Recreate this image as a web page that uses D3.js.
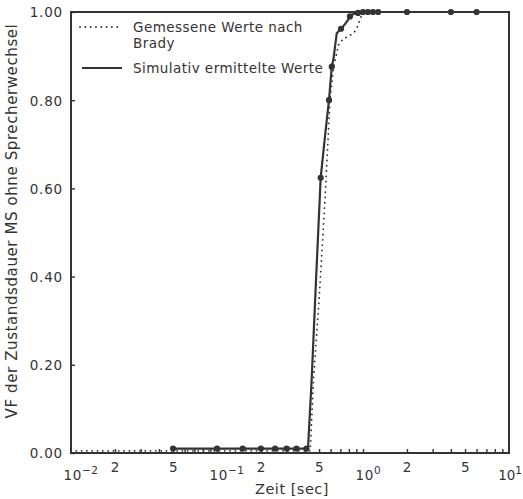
<!DOCTYPE html>
<html>
<head>
<meta charset="utf-8">
<script src="https://cdn.jsdelivr.net/npm/d3@7"></script>
<style>
  html, body { margin: 0; padding: 0; background: #fff; }
  svg { display: block; }
  text { font-family: "DejaVu Sans", sans-serif; fill: #333; }
</style>
</head>
<body>
<svg id="chart" width="523" height="499"></svg>
<script>
// Simulated state durations (seconds) and their cumulative distribution
const simTime = [0.05, 0.1, 0.15, 0.2, 0.25, 0.3, 0.35, 0.41, 0.42, 0.445, 0.47, 0.513, 0.55, 0.585, 0.611, 0.626, 0.661, 0.707, 0.75, 0.79, 0.814, 0.855, 0.925, 1.0, 1.08, 1.17, 1.27, 2.0, 4.0, 6.0];
const simCdf  = [0.01, 0.01, 0.01, 0.01, 0.01, 0.01, 0.01, 0.01, 0.01, 0.166, 0.347, 0.624, 0.72, 0.80, 0.876, 0.891, 0.952, 0.962, 0.972, 0.982, 0.99, 0.995, 0.998, 1.0, 1.0, 1.0, 1.0, 1.0, 1.0, 1.0];
const simMarked = [true, true, true, true, true, true, true, true, false, false, false, true, false, true, true, false, false, true, false, false, true, false, true, true, true, true, true, true, true, true];

// Measured values after Brady
const bradyTime = [0.01, 0.1, 0.435, 0.458, 0.50, 0.549, 0.594, 0.63, 0.661, 0.68, 0.73, 0.81, 0.88, 0.92, 0.95, 0.98, 1.02, 1.35];
const bradyCdf  = [0.005, 0.005, 0.005, 0.166, 0.347, 0.574, 0.80, 0.877, 0.907, 0.925, 0.939, 0.946, 0.956, 0.968, 0.982, 0.993, 1.0, 1.0];

// Axis ticks
const yTicks = [0, 0.2, 0.4, 0.6, 0.8, 1.0];
const xLabelTicks = [0.01, 0.02, 0.05, 0.1, 0.2, 0.5, 1, 2, 5, 10];
const xMinorTicks = [0.02, 0.03, 0.04, 0.05, 0.06, 0.07, 0.08, 0.09, 0.1,
                     0.2, 0.3, 0.4, 0.5, 0.6, 0.7, 0.8, 0.9, 1,
                     2, 3, 4, 5, 6, 7, 8, 9];

const legendLabels = [["Gemessene Werte nach", "Brady"], ["Simulativ ermittelte Werte"]];
const xTitle = "Zeit [sec]";
const yTitle = "VF der Zustandsdauer MS ohne Sprecherwechsel";

const ink = "#333";
const margin = { left: 71, top: 12, right: 14, bottom: 46 };
const W = 523, H = 499;
const w = W - margin.left - margin.right;
const h = H - margin.top - margin.bottom;

const svg = d3.select("#chart");
const g = svg.append("g").attr("transform", `translate(${margin.left},${margin.top})`);

const x = d3.scaleLog().domain([0.01, 10]).range([0, w]);
const y = d3.scaleLinear().domain([0, 1]).range([h, 0]);

// inward minor ticks on the time axis
const xTickAxis = g.append("g")
  .attr("transform", `translate(0,${h})`)
  .call(d3.axisBottom(x).tickValues(xMinorTicks).tickSize(-4).tickFormat(""));
xTickAxis.select(".domain").remove();
xTickAxis.selectAll("line").attr("stroke", ink).attr("stroke-width", 1.4);

// time axis labels: plain digits and powers of ten
const xLabelAxis = g.append("g")
  .attr("transform", `translate(0,${h})`)
  .call(d3.axisBottom(x).tickValues(xLabelTicks).tickSize(0).tickPadding(0)
    .tickFormat(d => String(d)));
xLabelAxis.select(".domain").remove();
xLabelAxis.selectAll("text").each(function (d) {
  const t = d3.select(this);
  const e = Math.round(Math.log10(d));
  const isPow = Math.abs(Math.pow(10, e) - d) < 1e-9;
  t.text(null).attr("fill", ink).attr("dy", null)
    .style("font-size", "13.5px").style("letter-spacing", "0.6px");
  if (isPow) {
    t.attr("y", 27).attr("text-anchor", "start").attr("x", -8);
    t.append("tspan").text("10");
    t.append("tspan").attr("dy", -6).style("font-size", "10.5px")
      .text(e < 0 ? "\u2212" + Math.abs(e) : String(e));
  } else {
    t.attr("y", 19).text(String(d).replace(/^0\.0?/, "").replace(/^(\d).*/, "$1"));
  }
});
// keep the last power label inside the page
xLabelAxis.selectAll(".tick").each(function () {
  const node = d3.select(this).select("text").node();
  const box = node.getBoundingClientRect();
  if (box.right > W - 1) {
    d3.select(node).style("letter-spacing", "0px")
      .attr("x", -8 - Math.max(0, node.getBoundingClientRect().right - (W - 1)));
  }
});

// value axis
const yAxis = g.append("g")
  .call(d3.axisLeft(y).tickValues(yTicks).tickSize(-4).tickPadding(8).tickFormat(d3.format(".2f")));
yAxis.select(".domain").remove();
yAxis.selectAll("line").attr("stroke", ink).attr("stroke-width", 1.4);
yAxis.selectAll("text").attr("fill", ink).attr("dy", "0.36em")
  .style("font-size", "13.5px").style("letter-spacing", "0.8px");

// frame
g.append("rect").attr("x", 0).attr("y", 0).attr("width", w).attr("height", h)
  .attr("fill", "none").attr("stroke", ink).attr("stroke-width", 2);

// measured curve (dotted)
const bradyPts = bradyTime.map((t, i) => [t, bradyCdf[i]]);
const simPts = simTime.map((t, i) => [t, simCdf[i]]);
const line = d3.line().x(d => x(d[0])).y(d => y(d[1]));

g.append("path").datum(bradyPts).attr("d", line)
  .attr("fill", "none").attr("stroke", ink).attr("stroke-width", 1.8)
  .attr("stroke-linecap", "round").attr("stroke-dasharray", "0.1 5.2");

// simulated curve (solid with markers)
g.append("path").datum(simPts).attr("d", line)
  .attr("fill", "none").attr("stroke", ink).attr("stroke-width", 2.2)
  .attr("stroke-linejoin", "round");
g.selectAll("circle.sim").data(simPts.filter((d, i) => simMarked[i]))
  .enter().append("circle").attr("class", "sim")
  .attr("cx", d => x(d[0])).attr("cy", d => y(d[1])).attr("r", 3.1)
  .attr("fill", ink);

// legend
const lg = svg.append("g");
lg.append("line").attr("x1", 80).attr("x2", 118).attr("y1", 27).attr("y2", 27)
  .attr("stroke", ink).attr("stroke-width", 1.8).attr("stroke-linecap", "round")
  .attr("stroke-dasharray", "0.1 5.2");
lg.append("line").attr("x1", 82).attr("x2", 122).attr("y1", 68).attr("y2", 68)
  .attr("stroke", ink).attr("stroke-width", 2);
const legendY = [[32, 48], [73]];
legendLabels.forEach((lines, i) => {
  lines.forEach((s, j) => {
    lg.append("text").attr("x", 133).attr("y", legendY[i][j]).text(s)
      .style("font-size", "13.5px").style("letter-spacing", "0.45px");
  });
});

// axis titles
svg.append("text").attr("x", 292).attr("y", 494).attr("text-anchor", "middle")
  .style("font-size", "14.5px").style("letter-spacing", "0.5px").text(xTitle);
svg.append("text").attr("transform", "translate(17,221) rotate(-90)")
  .attr("text-anchor", "middle").style("font-size", "15px").style("letter-spacing", "0.6px")
  .text(yTitle);
</script>
</body>
</html>
